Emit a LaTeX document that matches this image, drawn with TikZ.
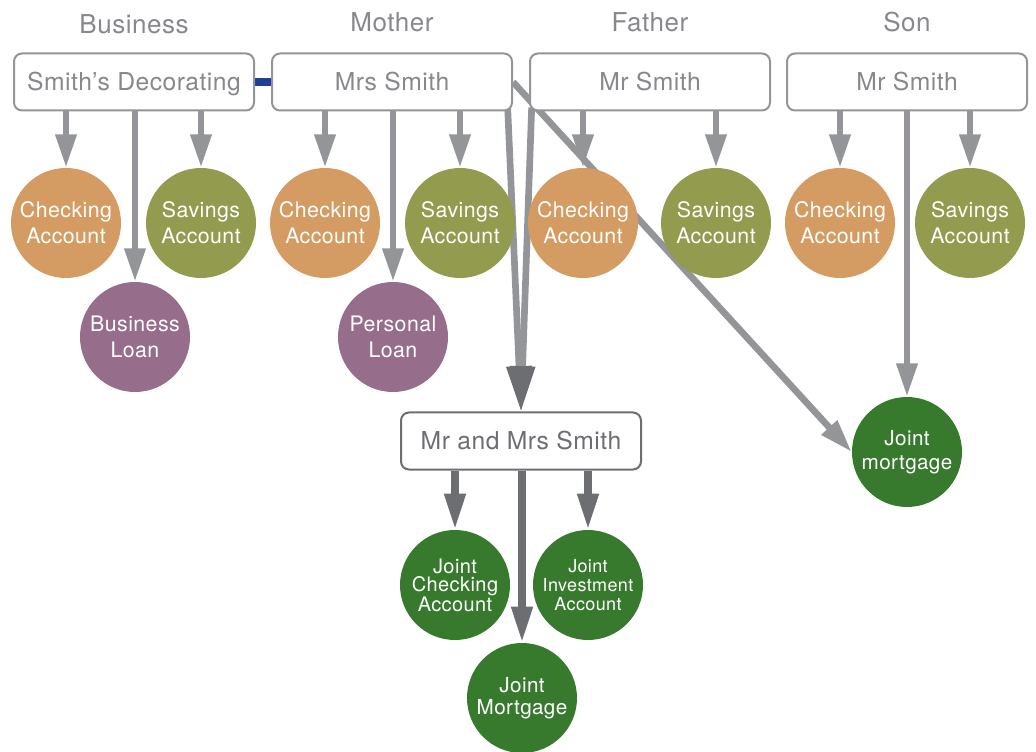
\documentclass[tikz,border=0pt]{standalone}
\usepackage{fontspec}
\setmainfont{TeX Gyre Heros}[LetterSpace=2]
\usetikzlibrary{positioning,arrows.meta,backgrounds}
\definecolor{boxgray}{HTML}{939598}
\definecolor{txtgray}{HTML}{87888C}
\definecolor{jointgray}{HTML}{6D6E71}
\definecolor{checkorange}{HTML}{D49C62}
\definecolor{saveolive}{HTML}{939B4F}
\definecolor{loanpurple}{HTML}{966D8B}
\definecolor{jointgreen}{HTML}{377A2E}
\definecolor{linkblue}{HTML}{1D3F94}

\begin{document}
\begin{tikzpicture}[x=0.75pt, y=-0.75pt,
    owner/.style={rectangle, rounded corners=6pt, draw=boxgray, line width=1.5pt, fill=white, minimum width=180pt, minimum height=42.75pt, text=txtgray, text height=13.5pt, text depth=0pt, font=\fontsize{18.5}{22}\selectfont},
    acct/.style={circle, minimum size=82.5pt, inner sep=0pt, text=white, align=center, font=\fontsize{16}{19.5}\selectfont},
    head/.style={text=txtgray, inner sep=0pt, font=\fontsize{19.5}{23}\selectfont},
    link/.style={line width=5pt, draw=boxgray, -{Triangle[length=25pt,width=15pt]}},
    jlink/.style={line width=5.5pt, draw=jointgray, -{Triangle[length=27pt,width=15pt]}},
    mlink/.style={line width=5pt, draw=boxgray, -{Triangle[length=34pt,width=18pt,color=jointgray]}}]
    \useasboundingbox (0,0) rectangle (1036,752);

    % owners
    \node[owner] (sd) at (134,82) {Smith's Decorating};
    \node[owner] (mrs) at (392,82) {Mrs Smith};
    \node[owner] (father) at (650,82) {Mr Smith};
    \node[owner] (son) at (907,82) {Mr Smith};
    \node[owner, draw=jointgray, text=jointgray] (mm) at (521,441) {Mr and Mrs Smith};
    \node[head, above=14pt of sd] (hbus) {Business};
    \node[head, above=15pt of mrs] (hmother) {Mother};
    \node[head, above=15pt of father] (hfather) {Father};
    \node[head, above=15pt of son] (hson) {Son};

    % accounts
    \node[acct, fill=checkorange] (bcheck) at (66,223) {Checking\\Account};
    \node[acct, fill=saveolive] (bsave) at (201,223) {Savings\\Account};
    \node[acct, fill=loanpurple] (bloan) at (135,337) {Business\\Loan};
    \node[acct, fill=checkorange] (mcheck) at (325,223) {Checking\\Account};
    \node[acct, fill=saveolive] (msave) at (460,223) {Savings\\Account};
    \node[acct, fill=loanpurple] (mloan) at (393,337) {Personal\\Loan};
    \node[acct, fill=checkorange] (fcheck) at (583,223) {Checking\\Account};
    \node[acct, fill=saveolive] (fsave) at (716,223) {Savings\\Account};
    \node[acct, fill=checkorange] (scheck) at (840,223) {Checking\\Account};
    \node[acct, fill=saveolive] (ssave) at (970,223) {Savings\\Account};
    \node[acct, fill=jointgreen, font=\fontsize{15.5}{18}\selectfont] (smort) at (907,452) {Joint\\mortgage};
    \node[acct, fill=jointgreen, font=\fontsize{15}{13.5}\selectfont] (jcheck) at (455,585) {Joint\\Checking\\Account};
    \node[acct, fill=jointgreen, font=\fontsize{13.5}{14}\selectfont] (jinvest) at (588,585) {Joint\\Investment\\Account};
    \node[acct, fill=jointgreen, font=\fontsize{15.5}{16.5}\selectfont] (jmort) at (522,698) {Joint\\Mortgage};

    \begin{scope}[on background layer]
    \draw[line width=6pt, draw=linkblue] (sd.east) -- (mrs.west);
    \draw[link] (sd.south -| bcheck) -- (bcheck);
    \draw[link] (sd.south -| bloan) -- (bloan);
    \draw[link] (sd.south -| bsave) -- (bsave);
    \draw[link] (mrs.south -| mcheck) -- (mcheck);
    \draw[link] (mrs.south -| mloan) -- (mloan);
    \draw[link] (mrs.south -| msave) -- (msave);
    \draw[link] (father.south -| fcheck) -- (fcheck);
    \draw[link] (father.south -| fsave) -- (fsave);
    \draw[link] (son.south -| scheck) -- (scheck);
    \draw[link] (son.south -| ssave) -- (ssave);
    \draw[link] (son.south -| smort) -- (smort);
    \draw[link] (mrs.east) -- (smort.west);
    \draw[mlink] ([xshift=-4pt,yshift=3pt]mrs.south east) -- (mm.north);
    \draw[mlink] ([xshift=2pt,yshift=3pt]father.south west) -- (mm.north);
    \draw[jlink] (mm.south -| jcheck) -- (jcheck);
    \draw[jlink] (mm.south -| jmort) -- (jmort);
    \draw[jlink] (mm.south -| jinvest) -- (jinvest);
    \end{scope}
\end{tikzpicture}
\end{document}
